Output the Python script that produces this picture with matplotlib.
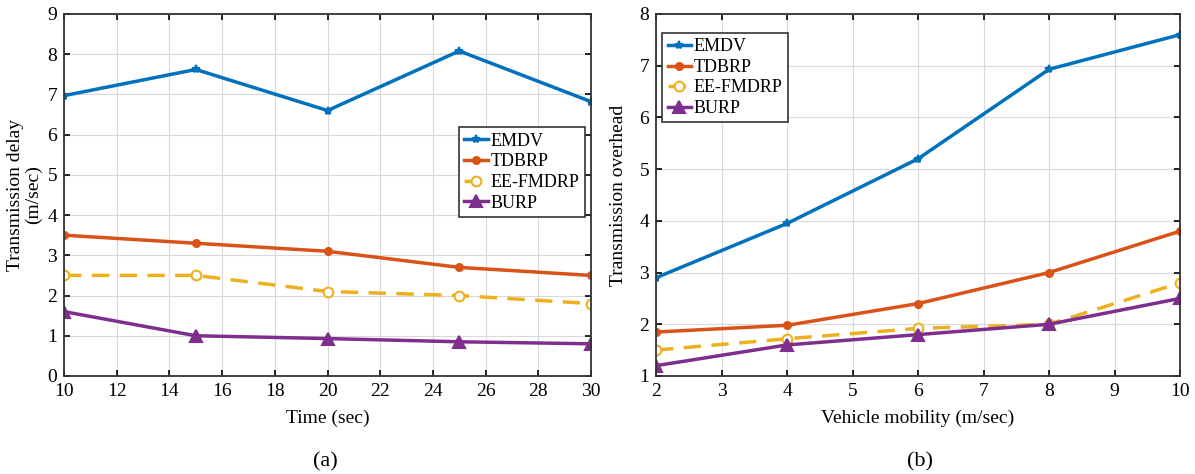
import matplotlib
matplotlib.use("Agg")
import matplotlib.pyplot as plt

plt.rcParams["font.family"] = ["Liberation Serif", "DejaVu Serif"]

names = ["EMDV", "TDBRP", "EE-FMDRP", "BURP"]
colors = ["#0072BD", "#D95319", "#EDB120", "#7E2F8E"]

time_sec = [10, 15, 20, 25, 30]
delay_emdv = [6.97, 7.62, 6.60, 8.08, 6.82]
delay_tdbrp = [3.50, 3.30, 3.10, 2.70, 2.50]
delay_eefmdrp = [2.50, 2.50, 2.10, 2.00, 1.80]
delay_burp = [1.60, 1.00, 0.93, 0.85, 0.80]

mobility = [2, 4, 6, 8, 10]
ovh_emdv = [2.90, 3.95, 5.20, 6.93, 7.60]
ovh_tdbrp = [1.85, 1.98, 2.40, 3.00, 3.80]
ovh_eefmdrp = [1.50, 1.72, 1.92, 2.00, 2.80]
ovh_burp = [1.20, 1.60, 1.80, 2.00, 2.50]

styles = [
    dict(marker="*", ms=6, linestyle="-", mfc=None),
    dict(marker="o", ms=5, linestyle="-", mfc=None),
    dict(marker="o", ms=7, linestyle="--", mfc="white"),
    dict(marker="^", ms=8, linestyle="-", mfc=None),
]


def draw(ax, x, series):
    for name, color, st, y in zip(names, colors, styles, series):
        mfc = st["mfc"] if st["mfc"] else color
        ax.plot(x, y, color=color, lw=2.5, linestyle=st["linestyle"],
                marker=st["marker"], ms=st["ms"], mfc=mfc, mec=color,
                mew=1.5, label=name, dashes=(5, 3) if st["linestyle"] == "--" else (None, None))
    ax.grid(True, color="#d9d9d9", lw=0.8)
    ax.set_axisbelow(True)
    ax.tick_params(direction="in", top=True, right=True, labelsize=14,
                   length=4, width=1.2, pad=5)
    for s in ax.spines.values():
        s.set_linewidth(1.3)
        s.set_color("#333333")


def legend(ax, loc, anchor):
    leg = ax.legend(loc=loc, bbox_to_anchor=anchor, fontsize=13,
                    numpoints=1, handlelength=1.3, handletextpad=0.15,
                    borderpad=0.3, labelspacing=0.2, borderaxespad=0.2,
                    fancybox=False, edgecolor="#333333", framealpha=1)
    leg.get_frame().set_linewidth(1.2)


fig = plt.figure(figsize=(11.95, 4.74), dpi=100)
ax1 = fig.add_axes([0.0536, 0.2068, 0.441, 0.7637])
ax2 = fig.add_axes([0.549, 0.2068, 0.4385, 0.7637])

draw(ax1, time_sec, [delay_emdv, delay_tdbrp, delay_eefmdrp, delay_burp])
ax1.set_xlim(10, 30)
ax1.set_ylim(0, 9)
ax1.set_xticks(range(10, 31, 2))
ax1.set_yticks(range(0, 10))
ax1.set_xlabel("Time (sec)", fontsize=14, labelpad=7)
ax1.set_ylabel("Transmission delay\n(m/sec)", fontsize=14, labelpad=4, linespacing=1.05)
legend(ax1, "upper right", (0.995, 0.697))
fig.text(0.272, 0.015, "(a)", ha="center", fontsize=16)

draw(ax2, mobility, [ovh_emdv, ovh_tdbrp, ovh_eefmdrp, ovh_burp])
ax2.set_xlim(2, 10)
ax2.set_ylim(1, 8)
ax2.set_xticks(range(2, 11))
ax2.set_yticks(range(1, 9))
ax2.set_xlabel("Vehicle mobility (m/sec)", fontsize=14, labelpad=7)
ax2.set_ylabel("Transmission overhead", fontsize=14, labelpad=9)
legend(ax2, "upper left", (0.005, 0.958))
fig.text(0.77, 0.015, "(b)", ha="center", fontsize=16)

fig.savefig("out.png", dpi=100)
